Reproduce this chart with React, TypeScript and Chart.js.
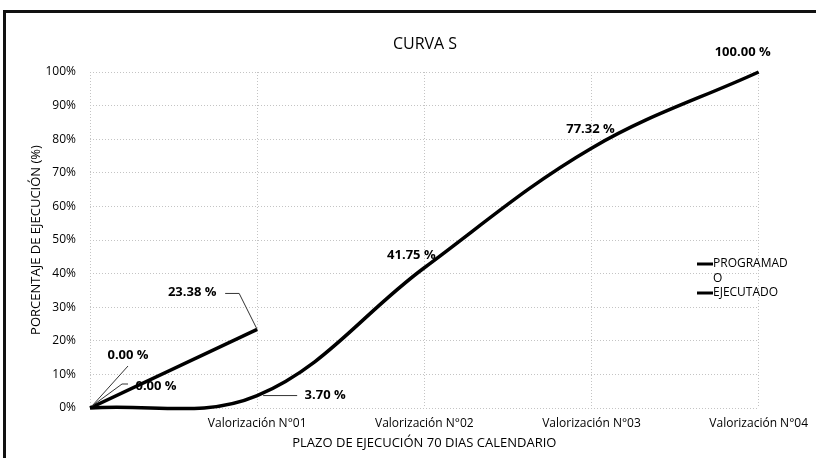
import React, { useEffect, useRef } from "react";
import { Chart, registerables } from "chart.js";

Chart.register(...registerables);

const categories = ["", "Valorización N°01", "Valorización N°02", "Valorización N°03", "Valorización N°04"];
const programado = [0, 3.7, 41.75, 77.32, 100];
const ejecutado: (number | null)[] = [0, 23.38, null, null, null];
const seriesNames = ["PROGRAMADO", "EJECUTADO"];
const legendLines = [["PROGRAMAD", "O"], ["EJECUTADO"]];
const chartTitle = "CURVA S";
const xTitle = "PLAZO DE EJECUCIÓN 70 DIAS CALENDARIO";
const yTitle = "PORCENTAJE DE EJECUCIÓN (%)";
const yMin = 0;
const yMax = 100;
const yStep = 10;

const FONT = "'Open Sans', 'DejaVu Sans', sans-serif";

// label placement (style only): text centre offset from point, optional leader polyline (offsets)
const labelPlacement: { dx: number; dy: number; leader?: [number, number][] }[][] = [
  [
    { dx: 66, dy: -22, leader: [[2, -2], [32, -24], [38, -24]] },
    { dx: 68, dy: 0, leader: [[6, 0], [40, 0]] },
    { dx: -13, dy: -12 },
    { dx: -1, dy: -19 },
    { dx: -16, dy: -20 },
  ],
  [
    { dx: 38, dy: -53, leader: [[2, -2], [38, -42]] },
    { dx: -65, dy: -37, leader: [[-32, -36], [-18, -36], [0, 0]] },
  ],
];

const customPlugin = {
  id: "custom",
  beforeDraw(chart: any) {
    const ctx = chart.ctx;
    ctx.save();
    ctx.fillStyle = "#ffffff";
    ctx.fillRect(0, 0, chart.width, chart.height);
    ctx.strokeStyle = "#111";
    ctx.lineWidth = 3;
    ctx.strokeRect(4.5, 11.5, chart.width + 20, chart.height + 20);
    ctx.restore();
  },
  afterDatasetsDraw(chart: any) {
    const ctx = chart.ctx;
    ctx.save();
    // title
    ctx.fillStyle = "#000";
    ctx.font = `16px ${FONT}`;
    ctx.textAlign = "center";
    ctx.textBaseline = "middle";
    ctx.fillText(chartTitle, 425, 44);

    // data labels
    ctx.font = `bold 13px ${FONT}`;
    chart.data.datasets.forEach((ds: any, di: number) => {
      const meta = chart.getDatasetMeta(di);
      ds.data.forEach((v: number | null, i: number) => {
        if (v === null || v === undefined) return;
        const pt = meta.data[i];
        const pl = labelPlacement[di][i];
        if (!pt || !pl) return;
        if (pl.leader) {
          ctx.strokeStyle = "#333";
          ctx.lineWidth = 1;
          ctx.beginPath();
          pl.leader.forEach(([lx, ly], k) => {
            if (k === 0) ctx.moveTo(pt.x + lx, pt.y + ly);
            else ctx.lineTo(pt.x + lx, pt.y + ly);
          });
          ctx.stroke();
        }
        ctx.fillStyle = "#000";
        ctx.fillText(v.toFixed(2) + " %", pt.x + pl.dx, pt.y + pl.dy);
      });
    });

    // legend
    ctx.font = `12px ${FONT}`;
    ctx.textAlign = "left";
    const legendY = [264, 293];
    legendLines.forEach((lines, k) => {
      const y = legendY[k];
      ctx.strokeStyle = "#000";
      ctx.lineWidth = 3;
      ctx.beginPath();
      ctx.moveTo(697, y);
      ctx.lineTo(713, y);
      ctx.stroke();
      lines.forEach((t, j) => {
        ctx.fillStyle = "#000";
        ctx.fillText(t, 713, y + j * 15);
      });
    });
    ctx.restore();
  },
};

export default function App() {
  const ref = useRef<HTMLCanvasElement>(null);
  useEffect(() => {
    if (!ref.current) return;
    const chart = new Chart(ref.current, {
      type: "line",
      data: {
        labels: categories,
        datasets: [
          {
            label: seriesNames[0],
            data: programado,
            borderColor: "#000",
            borderWidth: 3.5,
            pointRadius: 0,
            tension: 0.37,
            capBezierPoints: false,
            clip: 6,
            fill: false,
          },
          {
            label: seriesNames[1],
            data: ejecutado,
            borderColor: "#000",
            borderWidth: 3.5,
            pointRadius: 0,
            tension: 0,
            fill: false,
          },
        ],
      },
      options: {
        animation: false,
        responsive: false,
        maintainAspectRatio: false,
        layout: { padding: { left: 20, right: 54, top: 72, bottom: 0 } },
        plugins: {
          legend: { display: false },
          title: { display: false },
          tooltip: { enabled: false },
        },
        scales: {
          x: {
            offset: false,
            grid: { color: "#c4c4c4", lineWidth: 1, drawTicks: false },
            border: { display: false, dash: [1, 2] },
            ticks: {
              color: "#000",
              font: { family: FONT, size: 12 },
              maxRotation: 0,
              autoSkip: false,
              padding: 8,
            },
            title: {
              display: true,
              text: xTitle,
              color: "#000",
              font: { family: FONT, size: 13 },
              padding: { top: 0, bottom: 7 },
            },
            afterFit(scale: any) {
              scale.height = 50;
            },
          },
          y: {
            min: yMin,
            max: yMax,
            grid: { color: "#c4c4c4", lineWidth: 1, drawTicks: false },
            border: { display: false, dash: [1, 2] },
            ticks: {
              stepSize: yStep,
              color: "#000",
              font: { family: FONT, size: 12 },
              padding: 14,
              callback: (v: any) => v + "%",
            },
            title: {
              display: true,
              text: yTitle,
              color: "#000",
              font: { family: FONT, size: 13 },
              padding: { top: 8, bottom: 0 },
            },
            afterFit(scale: any) {
              scale.width = 70;
            },
          },
        },
      } as any,
      plugins: [customPlugin],
    });
    return () => chart.destroy();
  }, []);
  return (
    <div style={{ position: "absolute", left: 0, top: 0, width: 816, height: 458, background: "#fff" }}>
      <canvas ref={ref} width={816} height={458} style={{ display: "block", width: 816, height: 458 }} />
    </div>
  );
}
